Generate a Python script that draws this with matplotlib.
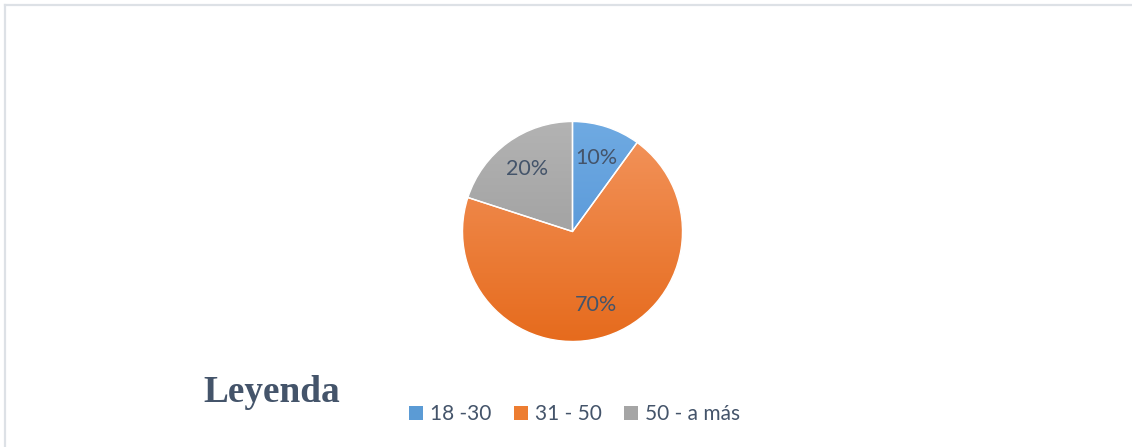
import matplotlib
matplotlib.use("Agg")
import matplotlib.pyplot as plt
import numpy as np
from matplotlib.colors import LinearSegmentedColormap
from matplotlib.patches import Patch
from matplotlib.lines import Line2D

# datos
categorias = ["18 -30", "31 - 50", "50 - a más"]
porcentajes = [10, 70, 20]

# colores (claro arriba, oscuro abajo, como el degradado de Excel)
colores_claro = ["#6FAAE2", "#F3955E", "#B3B3B3"]
colores_oscuro = ["#4A8DD3", "#E66B1D", "#949494"]
colores_medio = ["#5B9BD5", "#ED7D31", "#A5A5A5"]
texto_color = "#44546A"

W, H = 1132, 447
fig = plt.figure(figsize=(W / 100, H / 100), dpi=100)

# borde del gráfico (solo arriba e izquierda visibles)
fig.add_artist(Line2D([5 / W, 1], [1 - 5 / H, 1 - 5 / H], color="#DDE1E6", lw=1.6))
fig.add_artist(Line2D([5 / W, 5 / W], [0, 1 - 5 / H], color="#DDE1E6", lw=1.6))

# ejes del pastel: centro (572, 232), radio 110 px
cx, cy, r = 572.5, 231.5, 110
half = 1.2 * r
ax = fig.add_axes([(cx - half) / W, (H - cy - half) / H, 2 * half / W, 2 * half / H])

wedges, texts, autotexts = ax.pie(
    porcentajes,
    startangle=90,
    counterclock=False,
    autopct="%1.0f%%",
    pctdistance=0.7,
    wedgeprops=dict(facecolor="none", edgecolor="white", linewidth=1),
    textprops=dict(color=texto_color, fontsize=15.5, fontfamily="Lato"),
)

# degradado vertical recortado a cada porción
grad = np.linspace(0, 1, 256).reshape(-1, 1)
for w, c1, c2 in zip(wedges, colores_claro, colores_oscuro):
    cmap = LinearSegmentedColormap.from_list("g", [c1, c2])
    im = ax.imshow(grad, cmap=cmap, extent=[-1, 1, -1, 1], origin="upper",
                   aspect="auto", zorder=0.5, interpolation="bilinear")
    im.set_clip_path(w)
for t in autotexts:
    t.set_zorder(3)

ax.set_xlim(-1.2, 1.2)
ax.set_ylim(-1.2, 1.2)
ax.set_aspect("equal")
ax.axis("off")

# leyenda
fig.text(203 / W, (H - 402) / H, "Leyenda", fontfamily="Liberation Serif",
         fontweight="bold", fontsize=26.8, color=texto_color, va="baseline")

handles = [Patch(facecolor=c, edgecolor="none") for c in colores_medio]
leg = fig.legend(handles, categorias, loc="center left",
                 bbox_to_anchor=(409 / W, (H - 414) / H), ncol=3, frameon=False,
                 handlelength=0.68, handleheight=0.68, handletextpad=0.35,
                 columnspacing=1.05, borderpad=0, borderaxespad=0,
                 prop=dict(family="Lato", size=15))
for t in leg.get_texts():
    t.set_color(texto_color)

fig.savefig("out.png", dpi=100)
